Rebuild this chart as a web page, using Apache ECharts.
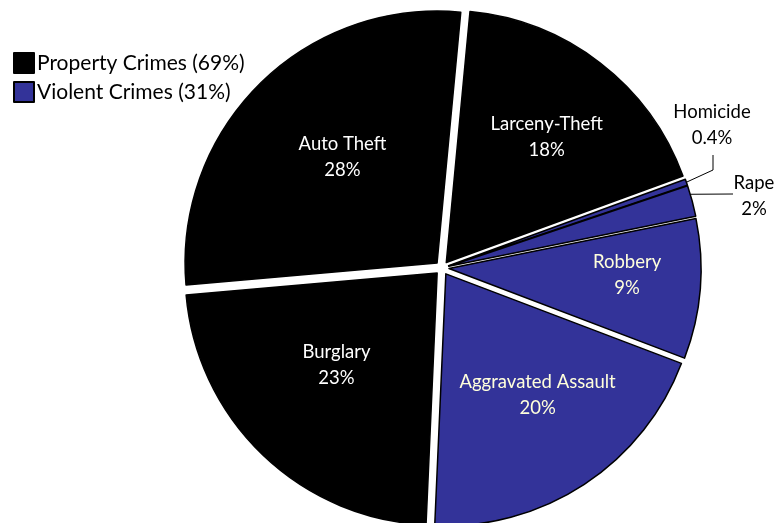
<!DOCTYPE html>
<html>
<head>
<meta charset="utf-8">
<script src="https://cdn.jsdelivr.net/npm/echarts@6/dist/echarts.min.js"></script>
<style>
  html, body { margin: 0; padding: 0; background: #fff; }
  #chart { width: 775px; height: 523px; }
</style>
</head>
<body>
<div id="chart"></div>
<script>
// Crime categories and their share of all reported crimes (%)
const categories = ['Larceny-Theft', 'Homicide', 'Rape', 'Robbery', 'Aggravated Assault', 'Burglary', 'Auto Theft'];
const shares = [18, 0.4, 2, 9, 20, 23, 28];
// 0 = property crime, 1 = violent crime
const categoryGroup = [0, 1, 1, 1, 1, 0, 0];

// Legend groups
const groupNames = ['Property Crimes (69%)', 'Violent Crimes (31%)'];
const groupShares = [69, 31];
const groupColors = ['#000000', '#333399'];
const groupLabelColors = ['#ffffff', '#ffffdc'];

// Pie geometry
const CX = 442, CY = 268, R = 252, EXPLODE = 7;
const START = 5.4; // degrees clockwise from 12 o'clock where the first slice begins

// Inside label placement: fraction of R and angular nudge (deg) from the slice bisector
const labelRadius = [0.665, 0, 0, 0.735, 0.63, 0.57, 0.59];
const labelNudge = [1, 0, 0, -2.5, -3.7, 3.5, 2.8];
// Outside labels (Homicide, Rape): text centre, leader-line start nudge (deg) and remaining points
const outsideLabels = {
  1: { text: [712, 125], startNudge: 0, points: [[713, 170], [713, 155]] },
  2: { text: [754, 196], startNudge: -1.5, points: [[733, 194]] }
};

const FONT = 'Lato, "Open Sans", sans-serif';
const LABEL_SIZE = 18.5;

const total = shares.reduce((a, b) => a + b, 0);
const midAngles = [];
let acc = 0;
shares.forEach(v => { midAngles.push(START + (acc + v / 2) / total * 360); acc += v; });

function polar(r, deg) {
  const a = deg * Math.PI / 180;
  return [CX + r * Math.sin(a), CY - r * Math.cos(a)];
}

const pieData = categories.map((name, i) => ({
  name: name,
  value: shares[i],
  selected: true,
  itemStyle: { color: groupColors[categoryGroup[i]] }
}));

// Slice labels and leader lines
const labelGraphics = [];
categories.forEach((name, i) => {
  const text = name + '\n' + shares[i] + '%';
  const o = outsideLabels[i];
  let pos;
  if (o) {
    pos = o.text;
    const start = polar(R + EXPLODE, midAngles[i] + o.startNudge);
    labelGraphics.push({
      type: 'polyline',
      silent: true,
      shape: { points: [start].concat(o.points) },
      style: { stroke: '#000', lineWidth: 1, fill: null }
    });
  } else {
    pos = polar(R * labelRadius[i], midAngles[i] + labelNudge[i]);
  }
  labelGraphics.push({
    type: 'text',
    silent: true,
    x: pos[0],
    y: pos[1],
    style: {
      text: text,
      fontFamily: FONT,
      fontSize: LABEL_SIZE,
      lineHeight: 26,
      fill: o ? '#000' : groupLabelColors[categoryGroup[i]],
      align: 'center',
      verticalAlign: 'middle'
    },
    z: 10
  });
});

const chart = echarts.init(document.getElementById('chart'), null, { renderer: 'canvas' });
chart.setOption({
  animation: false,
  backgroundColor: '#ffffff',
  legend: {
    data: groupNames,
    orient: 'vertical',
    left: 13,
    top: 52,
    padding: 0,
    itemWidth: 20,
    itemHeight: 20,
    itemGap: 7,
    icon: 'rect',
    textStyle: { fontFamily: FONT, fontSize: 21, color: '#000', padding: [0, 0, 0, -2] },
    selectedMode: false
  },
  graphic: labelGraphics,
  series: [
    {
      type: 'pie',
      center: [CX, CY],
      radius: [0, R],
      startAngle: 90 - START,
      clockwise: true,
      selectedMode: 'multiple',
      selectedOffset: EXPLODE,
      silent: true,
      itemStyle: { borderColor: '#000', borderWidth: 1.5 },
      label: { show: false },
      labelLine: { show: false },
      emphasis: { disabled: true },
      data: pieData
    },
    {
      // Group totals, used only for the legend
      type: 'pie',
      center: [CX, CY],
      radius: [0, 0],
      silent: true,
      label: { show: false },
      labelLine: { show: false },
      itemStyle: { borderColor: '#000', borderWidth: 1 },
      data: groupNames.map((n, i) => ({ name: n, value: groupShares[i], itemStyle: { color: groupColors[i] } }))
    }
  ]
});
</script>
</body>
</html>
